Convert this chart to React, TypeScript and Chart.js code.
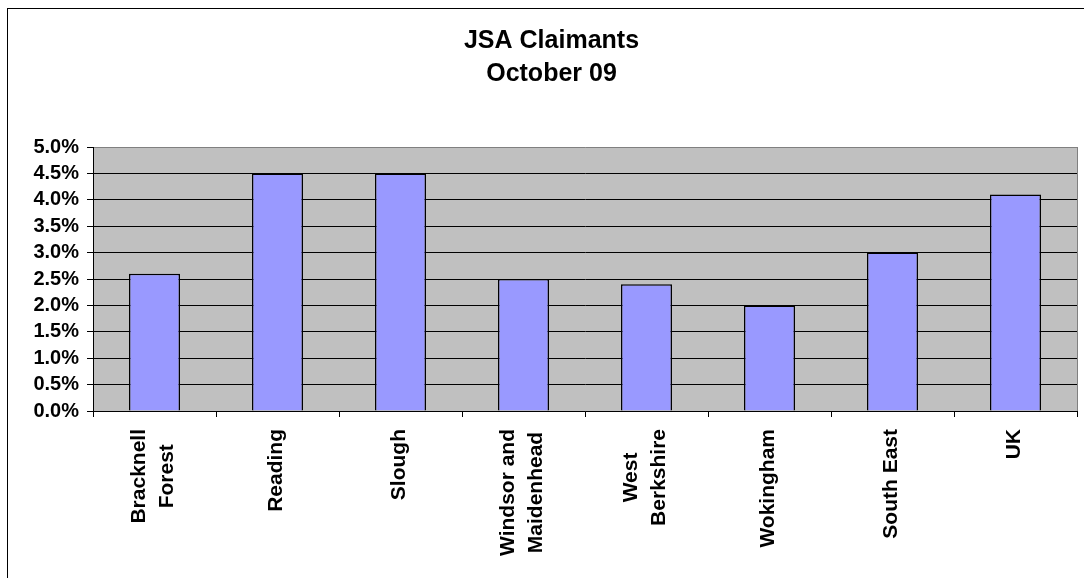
import { useEffect, useRef } from 'react';
import { Chart, registerables } from 'chart.js';

Chart.register(...registerables);

const titleLines = ['JSA Claimants', 'October 09'];
const categoryLabels: string[][] = [
  ['Bracknell', 'Forest'],
  ['Reading'],
  ['Slough'],
  ['Windsor and', 'Maidenhead'],
  ['West', 'Berkshire'],
  ['Wokingham'],
  ['South East'],
  ['UK'],
];
const claimantRates = [2.6, 4.5, 4.5, 2.5, 2.4, 2.0, 3.0, 4.1];
const yMin = 0;
const yMax = 5;
const yStep = 0.5;

const FONT = '"Liberation Sans", Arial, Helvetica, sans-serif';

export default function App() {
  const ref = useRef<HTMLCanvasElement>(null);

  useEffect(() => {
    const canvas = ref.current;
    if (!canvas) return;

    const plotBg = {
      id: 'plotBg',
      beforeDraw(chart: any) {
        const { ctx, chartArea } = chart;
        const { left, top, right, bottom } = chartArea;
        ctx.save();
        ctx.fillStyle = '#c0c0c0';
        ctx.fillRect(left, top, right - left, bottom - top);
        ctx.strokeStyle = '#808080';
        ctx.lineWidth = 1;
        ctx.beginPath();
        ctx.moveTo(Math.round(right) + 0.5, Math.round(top));
        ctx.lineTo(Math.round(right) + 0.5, Math.round(bottom) + 1);
        ctx.stroke();
        ctx.restore();
      },
    };

    const xLabels = {
      id: 'xLabels',
      afterDraw(chart: any) {
        const { ctx } = chart;
        const xs = chart.scales.x;
        ctx.save();
        ctx.font = `bold 21px ${FONT}`;
        ctx.fillStyle = '#000';
        ctx.textAlign = 'center';
        ctx.textBaseline = 'middle';
        categoryLabels.forEach((lines, i) => {
          const cx = xs.getPixelForTick(i);
          const maxW = Math.max(...lines.map((l) => ctx.measureText(l).width));
          const cy = xs.top + 18 + maxW / 2;
          lines.forEach((line, j) => {
            const x = cx + (j - (lines.length - 1) / 2) * 28 - 1;
            ctx.save();
            ctx.translate(x, cy);
            ctx.rotate(-Math.PI / 2);
            ctx.fillText(line, 0, 0);
            ctx.restore();
          });
        });
        ctx.restore();
      },
    };

    const chart = new Chart(canvas, {
      type: 'bar',
      data: {
        labels: categoryLabels,
        datasets: [
          {
            data: claimantRates,
            backgroundColor: '#9999ff',
            borderColor: '#000000',
            borderWidth: 1.5,
            categoryPercentage: 1,
            barPercentage: 0.415,
          },
        ],
      },
      options: {
        animation: false,
        responsive: false,
        devicePixelRatio: 1,
        layout: { padding: { left: 18, right: 7, top: 0, bottom: 0 } },
        plugins: {
          legend: { display: false },
          tooltip: { enabled: false },
          title: {
            display: true,
            text: titleLines,
            color: '#000',
            font: { family: FONT, size: 25, weight: 'bold', lineHeight: 1.3 },
            padding: { top: 16, bottom: 57 },
          },
        },
        scales: {
          x: {
            type: 'category',
            offset: true,
            grid: {
              offset: true,
              drawOnChartArea: false,
              drawTicks: true,
              tickLength: 6,
              tickColor: '#000',
              color: '#000',
            },
            border: { display: true, color: '#000', width: 1 },
            ticks: { display: false },
            afterFit: (s: any) => {
              s.height = 167;
            },
          },
          y: {
            type: 'linear',
            min: yMin,
            max: yMax,
            ticks: {
              stepSize: yStep,
              autoSkip: false,
              color: '#000',
              padding: 8,
              font: { family: FONT, size: 20, weight: 'bold' },
              callback: (v: any) => Number(v).toFixed(1) + '%',
            },
            grid: {
              color: (c: any) => (c.tick && c.tick.value === yMax ? '#808080' : '#000'),
              tickColor: '#000',
              tickLength: 6,
              lineWidth: 1,
            },
            border: { display: true, color: '#000', width: 1 },
            afterFit: (s: any) => {
              s.width = 67;
            },
          },
        },
      },
      plugins: [plotBg, xLabels],
    });

    return () => chart.destroy();
  }, []);

  return (
    <div
      style={{
        position: 'absolute',
        left: 7,
        top: 8,
        width: 1077,
        height: 570,
        borderLeft: '1px solid #000',
        borderTop: '1px solid #000',
        boxSizing: 'border-box',
        background: '#fff',
      }}
    >
      <canvas ref={ref} width={1076} height={569} style={{ display: 'block' }} />
    </div>
  );
}
